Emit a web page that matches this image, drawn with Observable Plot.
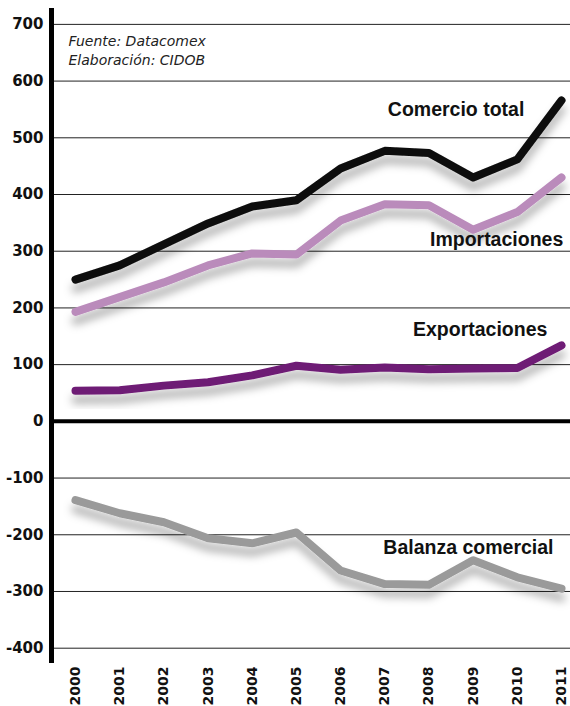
<!DOCTYPE html>
<html>
<head>
<meta charset="utf-8">
<script src="https://cdn.jsdelivr.net/npm/d3@7"></script>
<script src="https://cdn.jsdelivr.net/npm/@observablehq/plot@0.6"></script>
<style>
  html, body { margin: 0; padding: 0; background: #fff; }
  #chart svg { display: block; }
</style>
</head>
<body>
<div id="chart"></div>
<script>
const years = [2000, 2001, 2002, 2003, 2004, 2005, 2006, 2007, 2008, 2009, 2010, 2011];
const comercioTotal = [250, 275, 312, 349, 379, 390, 446, 477, 473, 430, 462, 566];
const importaciones = [193, 219, 245, 275, 296, 294, 354, 383, 381, 338, 369, 430];
const exportaciones = [54, 55, 63, 69, 81, 98, 91, 95, 92, 93, 94, 134];
const balanzaComercial = [-139, -162, -178, -206, -215, -196, -263, -287, -288, -245, -275, -295];
const seriesNames = ["Balanza comercial", "Exportaciones", "Importaciones", "Comercio total"];
const seriesColors = ["#9a9a9a", "#6e1a74", "#ba8bbb", "#0a0a0a"];
const yTicks = [-400, -300, -200, -100, 0, 100, 200, 300, 400, 500, 600, 700];
const sourceText = "Fuente: Datacomex\nElaboración: CIDOB";
// label anchor (end of text) in data units
const labelNames = ["Comercio total", "Importaciones", "Exportaciones", "Balanza comercial"];
const labelYears = [2010.16, 2011.04, 2010.68, 2010.82];
const labelValues = [550, 320, 162, -223];

const seriesValues = [balanzaComercial, exportaciones, importaciones, comercioTotal];
const rows = [];
seriesNames.forEach((name, i) => {
  years.forEach((yr, j) => rows.push({serie: name, year: yr, value: seriesValues[i][j]}));
});
const labels = labelNames.map((n, i) => ({name: n, year: labelYears[i], value: labelValues[i]}));

const chart = Plot.plot({
  width: 570,
  height: 706,
  marginLeft: 51,
  marginRight: 0,
  marginTop: 8,
  marginBottom: 43,
  style: {fontFamily: "DejaVu Sans", background: "#fff", color: "#111"},
  x: {domain: [1999.457, 2011.204]},
  y: {domain: [-427, 728]},
  color: {domain: seriesNames, range: seriesColors},
  marks: [
    Plot.ruleY(yTicks.filter(d => d !== 0), {stroke: "#222", strokeWidth: 1}),
    Plot.line(rows, {
      x: "year", y: "value", z: "serie", stroke: "serie",
      strokeWidth: 8, strokeLinecap: "round", strokeLinejoin: "round"
    }),
    Plot.ruleY([0], {stroke: "#000", strokeWidth: 4}),
    Plot.ruleX([1999.457], {stroke: "#000", strokeWidth: 5}),
    Plot.axisY({
      ticks: yTicks, tickSize: 0, tickPadding: 8, fontSize: 15, fontWeight: "bold",
      tickFormat: d => String(d), label: null
    }),
    Plot.axisX({
      ticks: years, tickSize: 0, tickPadding: 3, tickRotate: -90, fontSize: 14,
      fontWeight: "bold", tickFormat: d => String(d), label: null
    }),
    Plot.text(labels, {
      x: "year", y: "value", text: "name", textAnchor: "end",
      fontFamily: "Liberation Sans", fontWeight: "bold", fontSize: 19.5, fill: "#111"
    }),
    Plot.text([sourceText], {
      frameAnchor: "top-left", dx: 17, dy: 25, lineAnchor: "top", textAnchor: "start",
      fontStyle: "italic", fontSize: 14, fill: "#222", lineHeight: 1.3
    })
  ]
});

const svg = d3.select(chart);
const defs = svg.insert("defs", ":first-child");
const f = defs.append("filter").attr("id", "shadow")
  .attr("x", "-10%").attr("y", "-20%").attr("width", "120%").attr("height", "160%");
f.append("feDropShadow").attr("dx", 0).attr("dy", 9).attr("stdDeviation", 4.5)
  .attr("flood-color", "#000").attr("flood-opacity", 0.3);
svg.selectAll('g[aria-label="line"] path').attr("filter", "url(#shadow)");

document.getElementById("chart").appendChild(chart);
</script>
</body>
</html>
